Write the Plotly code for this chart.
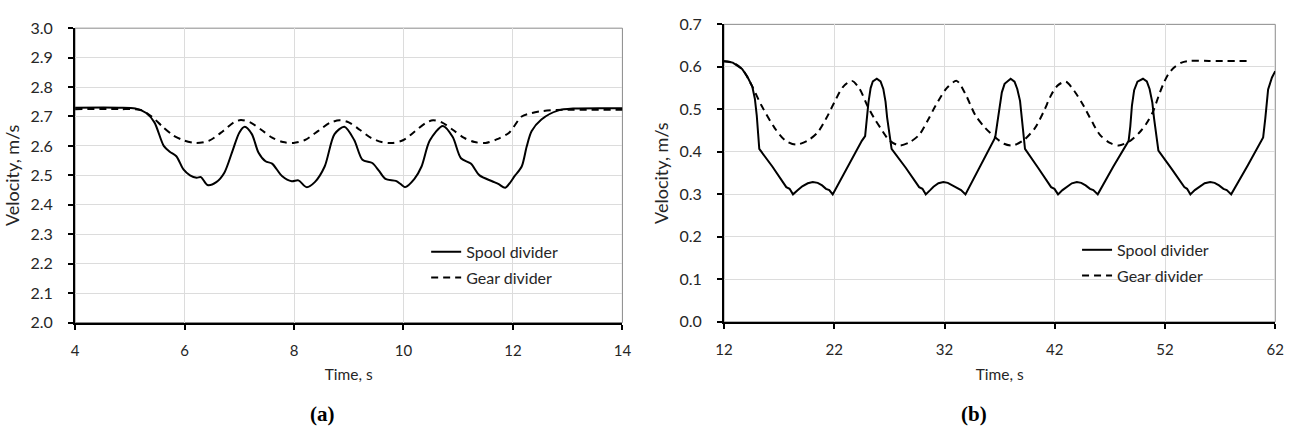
import plotly.graph_objects as go

# ---------------- data (a) ----------------
a_spool_t = [4.0, 4.8, 5.1, 5.3, 5.45, 5.62, 5.73, 5.85, 5.98, 6.1, 6.22, 6.3, 6.42, 6.58, 6.73,
             6.88, 7.0, 7.1, 7.23, 7.35, 7.48, 7.6, 7.78, 7.96, 8.08, 8.23, 8.38, 8.56, 8.74,
             8.92, 9.1, 9.25, 9.43, 9.55, 9.67, 9.86, 9.95, 10.03, 10.2, 10.33, 10.48, 10.72,
             10.9, 11.05, 11.23, 11.39, 11.62, 11.74, 11.86, 12.04, 12.16, 12.25, 12.34, 12.52,
             12.82, 13.12, 14.0]
a_spool_v = [2.730, 2.730, 2.727, 2.712, 2.680, 2.600, 2.580, 2.565, 2.520, 2.500, 2.492, 2.494,
             2.467, 2.477, 2.510, 2.585, 2.645, 2.665, 2.640, 2.578, 2.548, 2.540, 2.498, 2.480,
             2.483, 2.460, 2.477, 2.530, 2.640, 2.665, 2.620, 2.553, 2.542, 2.516, 2.488, 2.481,
             2.470, 2.460, 2.488, 2.530, 2.618, 2.668, 2.630, 2.558, 2.540, 2.500, 2.480, 2.470,
             2.458, 2.500, 2.530, 2.597, 2.650, 2.690, 2.720, 2.727, 2.728]

a_gear_t = [4.0, 4.8, 5.2, 5.4, 5.6, 5.8, 6.0, 6.22, 6.45, 6.7, 6.9, 7.03, 7.2, 7.4, 7.6, 7.8,
            7.99, 8.2, 8.45, 8.65, 8.83, 9.0, 9.2, 9.4, 9.6, 9.79, 10.0, 10.2, 10.4, 10.54, 10.7,
            10.9, 11.1, 11.3, 11.5, 11.7, 11.93, 12.16, 12.35, 12.52, 12.8, 14.0]
a_gear_v = [2.725, 2.725, 2.722, 2.700, 2.665, 2.635, 2.618, 2.610, 2.618, 2.650, 2.680, 2.688,
            2.680, 2.655, 2.628, 2.613, 2.610, 2.620, 2.652, 2.678, 2.687, 2.680, 2.655, 2.628,
            2.613, 2.610, 2.620, 2.648, 2.677, 2.687, 2.680, 2.655, 2.628, 2.613, 2.610, 2.622,
            2.645, 2.700, 2.712, 2.718, 2.722, 2.723]

# ---------------- data (b) ----------------
b_spool_t = [12.0, 12.8, 13.64, 14.1, 14.56, 14.8, 14.97, 15.2, 16.4, 17.65, 17.95, 18.26,
             18.7, 19.1, 19.6, 20.05, 20.5, 20.9, 21.25, 21.55, 21.86, 23.2, 24.5, 24.8, 25.1,
             25.3, 25.5, 25.86, 26.2, 26.45, 26.65, 26.8, 27.2, 28.5, 29.7, 30.0, 30.3, 30.7,
             31.0, 31.45, 31.9, 32.3, 32.7, 33.2, 33.5, 33.9, 35.3, 36.6, 36.8, 37.0, 37.2,
             37.45, 38.0, 38.35, 38.6, 38.85, 39.0, 39.3, 40.5, 41.67, 41.97, 42.3, 42.7, 43.1,
             43.55, 44.0, 44.4, 44.8, 45.2, 45.5, 45.9, 47.3, 48.7, 48.85, 49.0, 49.2, 49.5,
             50.0, 50.35, 50.6, 50.85, 51.0, 51.4, 52.6, 53.75, 54.0, 54.3, 54.7, 55.1, 55.6,
             56.1, 56.5, 56.9, 57.3, 57.6, 58.0, 59.5, 60.9, 61.1, 61.35, 61.7, 62.0]
b_spool_v = [0.613, 0.610, 0.595, 0.578, 0.554, 0.525, 0.486, 0.407, 0.365, 0.317, 0.313, 0.300,
             0.310, 0.319, 0.326, 0.329, 0.327, 0.321, 0.313, 0.310, 0.300, 0.365, 0.426, 0.437,
             0.516, 0.550, 0.566, 0.572, 0.566, 0.548, 0.518, 0.480, 0.407, 0.362, 0.317, 0.313,
             0.300, 0.310, 0.318, 0.326, 0.329, 0.327, 0.321, 0.313, 0.310, 0.300, 0.368, 0.434,
             0.470, 0.509, 0.540, 0.560, 0.572, 0.565, 0.548, 0.520, 0.480, 0.407, 0.362, 0.317,
             0.313, 0.300, 0.310, 0.318, 0.326, 0.329, 0.327, 0.321, 0.313, 0.310, 0.300, 0.365,
             0.426, 0.460, 0.509, 0.545, 0.565, 0.572, 0.566, 0.548, 0.516, 0.480, 0.403, 0.360,
             0.317, 0.313, 0.300, 0.310, 0.318, 0.326, 0.329, 0.327, 0.321, 0.313, 0.310, 0.300,
             0.368, 0.434, 0.480, 0.547, 0.575, 0.590]

b_gear_t = [12.0, 12.8, 13.64, 14.56, 15.4, 16.6, 17.5, 18.5, 19.5, 20.5, 21.3, 22.0, 22.8,
            23.6, 24.3, 25.0, 25.6, 26.2, 27.0, 27.9, 28.8, 29.7, 30.5, 31.2, 32.2, 33.1, 33.9,
            34.8, 35.7, 36.6, 37.4, 38.2, 39.2, 40.2, 41.0, 41.7, 42.3, 43.0, 43.8, 44.6, 45.4,
            46.1, 47.0, 47.8, 48.8, 49.7, 50.3, 50.9, 51.4, 51.8, 52.3, 52.85, 53.5, 54.2, 56.0,
            59.7]
b_gear_v = [0.613, 0.610, 0.595, 0.554, 0.509, 0.456, 0.428, 0.417, 0.425, 0.446, 0.480, 0.516,
            0.553, 0.567, 0.548, 0.509, 0.480, 0.456, 0.427, 0.415, 0.422, 0.440, 0.475, 0.509,
            0.550, 0.567, 0.536, 0.486, 0.456, 0.434, 0.419, 0.415, 0.428, 0.456, 0.495, 0.535,
            0.557, 0.565, 0.542, 0.509, 0.470, 0.440, 0.421, 0.415, 0.425, 0.446, 0.466, 0.494,
            0.530, 0.557, 0.583, 0.599, 0.610, 0.614, 0.614, 0.614]

series_names = ["Spool divider", "Gear divider"]
x_title = "Time, s"
y_title = "Velocity, m/s"
panel_labels = ["(a)", "(b)"]

W, H = 1304, 438
FONT = "Lato"
DASH = "7px,5px"
TXT = "#262626"

fig = go.Figure()

fig.add_trace(go.Scatter(x=a_spool_t, y=a_spool_v, mode="lines", name=series_names[0],
                         line=dict(color="black", width=2, shape="spline", smoothing=0.8),
                         xaxis="x", yaxis="y", legend="legend", legendgroup="a1"))
fig.add_trace(go.Scatter(x=a_gear_t, y=a_gear_v, mode="lines", name=series_names[1],
                         line=dict(color="black", width=2, dash=DASH, shape="spline", smoothing=0.8),
                         xaxis="x", yaxis="y", legend="legend", legendgroup="a2"))
fig.add_trace(go.Scatter(x=b_spool_t, y=b_spool_v, mode="lines", name=series_names[0],
                         line=dict(color="black", width=2),
                         xaxis="x2", yaxis="y2", legend="legend2", legendgroup="b1"))
fig.add_trace(go.Scatter(x=b_gear_t, y=b_gear_v, mode="lines", name=series_names[1],
                         line=dict(color="black", width=2, dash=DASH, shape="spline", smoothing=0.8),
                         xaxis="x2", yaxis="y2", legend="legend2", legendgroup="b2"))

grid = "#dcdcdc"
common_x = dict(showline=True, linecolor="black", linewidth=2, showgrid=True, gridcolor=grid,
                gridwidth=1, ticks="outside", ticklen=5, tickwidth=1.5, tickcolor="black",
                zeroline=False, tickfont=dict(family=FONT, size=15, color=TXT),
                ticklabelstandoff=8,
                title=dict(text=x_title, font=dict(family=FONT, size=15.5, color=TXT), standoff=12))
common_y = dict(showline=True, linecolor="black", linewidth=2, showgrid=True, gridcolor=grid,
                gridwidth=1, ticks="outside", ticklen=5, tickwidth=1.5, tickcolor="black",
                zeroline=False, tickfont=dict(family=FONT, size=16, color=TXT),
                tickformat=".1f", ticklabelstandoff=12,
                title=dict(text=y_title, font=dict(family=FONT, size=18, color=TXT), standoff=6))

fig.update_layout(
    width=W, height=H, margin=dict(l=0, r=0, t=0, b=0),
    paper_bgcolor="white", plot_bgcolor="white",
    font=dict(family=FONT, size=15, color=TXT),
    xaxis=dict(common_x, domain=[67 / W, 622 / W], range=[4, 14], tick0=4, dtick=2),
    yaxis=dict(common_y, domain=[1 - 326.7 / H, 1 - 19 / H], range=[2.0, 3.0], dtick=0.1, anchor="x"),
    xaxis2=dict(common_x, domain=[725 / W, 1284 / W], range=[12, 62], tick0=12, dtick=10, anchor="y2"),
    yaxis2=dict(common_y, domain=[1 - 326 / H, 1 - 15 / H], range=[0.0, 0.7], dtick=0.1, anchor="x2"),
    legend=dict(x=423 / W, y=1 - 235 / H, xanchor="left", yanchor="top", bgcolor="rgba(0,0,0,0)",
                font=dict(family=FONT, size=16, color=TXT), traceorder="grouped",
                tracegroupgap=2, itemwidth=30),
    legend2=dict(x=1083 / W, y=1 - 233 / H, xanchor="left", yanchor="top", bgcolor="rgba(0,0,0,0)",
                 font=dict(family=FONT, size=16, color=TXT), traceorder="grouped",
                 tracegroupgap=2, itemwidth=30),
    showlegend=True,
)

for xr, yr in (("x", "y"), ("x2", "y2")):
    fig.add_shape(type="rect", xref=f"{xr} domain", yref=f"{yr} domain", x0=0, x1=1, y0=0, y1=1,
                  line=dict(color="#8a8a8a", width=1), layer="below")

for txt, xc in zip(panel_labels, (318, 979)):
    fig.add_annotation(text=f"<b>{txt}</b>", xref="paper", yref="paper", x=xc / W, y=1 - 422 / H,
                       showarrow=False, xanchor="center", yanchor="middle",
                       font=dict(family="Liberation Serif", size=21, color="black"))

fig.write_html("out.html")
